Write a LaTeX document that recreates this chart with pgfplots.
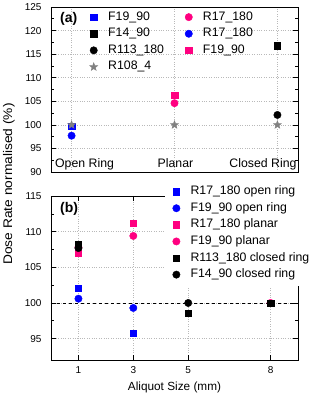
\documentclass[border=0pt]{standalone}
\usepackage{fontspec}
\setmainfont{Liberation Sans}
\usepackage{pgfplots}
\pgfplotsset{compat=1.18}

\definecolor{cblue}{RGB}{0,0,255}
\definecolor{cpink}{RGB}{255,0,128}
\definecolor{cgray}{RGB}{128,128,128}

% filled five-pointed star
\pgfdeclareplotmark{fstar}{%
  \pgfpathmoveto{\pgfpointpolar{90}{\pgfplotmarksize}}%
  \pgfpathlineto{\pgfpointpolar{126}{0.42\pgfplotmarksize}}%
  \pgfpathlineto{\pgfpointpolar{162}{\pgfplotmarksize}}%
  \pgfpathlineto{\pgfpointpolar{198}{0.42\pgfplotmarksize}}%
  \pgfpathlineto{\pgfpointpolar{234}{\pgfplotmarksize}}%
  \pgfpathlineto{\pgfpointpolar{270}{0.42\pgfplotmarksize}}%
  \pgfpathlineto{\pgfpointpolar{306}{\pgfplotmarksize}}%
  \pgfpathlineto{\pgfpointpolar{342}{0.42\pgfplotmarksize}}%
  \pgfpathlineto{\pgfpointpolar{18}{\pgfplotmarksize}}%
  \pgfpathlineto{\pgfpointpolar{54}{0.42\pgfplotmarksize}}%
  \pgfpathclose
  \pgfusepathqfillstroke
}

\pgfplotsset{
  panel/.style={
    scale only axis, width=247bp, anchor=south west,
    axis line style={line width=0.8bp}, every tick/.style={black, line width=0.6bp},
    major tick length=5bp, minor tick length=3bp,
    minor y tick num=1,
    grid=major, grid style={dotted, gray!55, line width=0.6bp},
    tick label style={font=\fontsize{10bp}{12bp}\selectfont},
    /pgf/number format/assume math mode=true,
    yticklabel style={xshift=-6bp},
    legend cell align=left,
    legend style={font=\fontsize{12.3bp}{14bp}\selectfont, draw=none,
      nodes={inner xsep=4bp, inner ysep=2.3bp, text height=9bp, text depth=3bp},
      /tikz/every odd column/.append style={column sep=6.5bp}},
  },
  sq/.style={only marks, mark=square*, mark size=3.2bp, mark options={draw=#1, fill=#1}},
  ci/.style={only marks, mark=*, mark size=3.7bp, mark options={draw=#1, fill=#1}},
}

\begin{document}
\begin{tikzpicture}
\useasboundingbox (0,0) rectangle (320bp,396bp);

% (a) sample geometry
\begin{axis}[panel,
  at={(51bp,224bp)}, height=165bp,
  xmin=-0.2, xmax=2.2, ymin=90, ymax=125,
  xtick={0,1,2}, xticklabels={}, xtick style={draw=none},
  ytick={90,95,...,125},
  legend columns=2,
  legend style={at={(rel axis cs:0.156,0.99)}, anchor=north west, fill=none, inner sep=0pt,
    /tikz/every even column/.append style={column sep=17bp}},
]
\addplot[sq=cblue] coordinates {(0,99.7)};
\addlegendentry{F19\_90}
\addplot[ci=cpink] coordinates {(1,104.6)};
\addlegendentry{R17\_180}
\addplot[sq=black] coordinates {(2,116.8)};
\addlegendentry{F14\_90}
\addplot[ci=cblue] coordinates {(0,97.7)};
\addlegendentry{R17\_180}
\addplot[ci=black] coordinates {(2,102.1)};
\addlegendentry{R113\_180}
\addplot[sq=cpink] coordinates {(1,106.3)};
\addlegendentry{F19\_90}
\addplot[only marks, mark=fstar, mark size=4.2bp, mark options={draw=cgray, fill=cgray}]
  coordinates {(0,100) (1,100) (2,100)};
\addlegendentry{R108\_4}
\node[anchor=base west, inner sep=0pt, font=\fontsize{12.3bp}{14bp}\selectfont]
  at (rel axis cs:0.016,0.0285) {Open Ring};
\node[anchor=base, inner sep=0pt, font=\fontsize{12.3bp}{14bp}\selectfont]
  at (rel axis cs:0.504,0.0285) {Planar};
\node[anchor=base east, inner sep=0pt, font=\fontsize{12.3bp}{14bp}\selectfont]
  at (rel axis cs:0.9947,0.0285) {Closed Ring};
\node[anchor=west, inner sep=0pt, font=\fontsize{14bp}{16bp}\selectfont\bfseries]
  at (rel axis cs:0.036,0.93) {(a)};
\end{axis}

% (b) aliquot size
\begin{axis}[panel,
  at={(51bp,36bp)}, height=164bp,
  xmin=0, xmax=9, ymin=92, ymax=115,
  xtick={1,3,5,8}, ytick={95,100,...,115},
  xticklabel style={yshift=-3bp},
  xlabel={Aliquot Size (mm)},
  xlabel style={at={(axis description cs:0.5,-0.183)}, anchor=base, font=\fontsize{11.8bp}{14bp}\selectfont},
  legend style={at={(rel axis cs:0.4615,1.0967)}, anchor=north west, fill=white,
    inner xsep=7.5bp, inner ysep=3bp},
]
\addplot[black, dashed, line width=0.7bp, forget plot] coordinates {(0,100) (9,100)};
\addplot[sq=cblue] coordinates {(1,102.1) (3,95.8)};
\addlegendentry{R17\_180 open ring}
\addplot[ci=cblue] coordinates {(1,100.6) (3,99.3)};
\addlegendentry{F19\_90 open ring}
\addplot[sq=cpink] coordinates {(1,107.0) (3,111.2)};
\addlegendentry{R17\_180 planar}
\addplot[ci=cpink] coordinates {(1,107.8) (3,109.4) (8,100)};
\addlegendentry{F19\_90 planar}
\addplot[sq=black] coordinates {(1,108.2) (5,98.6) (8,100)};
\addlegendentry{R113\_180 closed ring}
\addplot[ci=black] coordinates {(1,107.7) (5,100)};
\addlegendentry{F14\_90 closed ring}
\node[anchor=west, inner sep=0pt, font=\fontsize{14bp}{16bp}\selectfont\bfseries]
  at (rel axis cs:0.036,0.92) {(b)};
\end{axis}

\node[rotate=90, anchor=base, xscale=1.1, font=\fontsize{12.5bp}{14bp}\selectfont]
  at (12bp,212bp) {Dose Rate normalised (\%)};
\end{tikzpicture}
\end{document}
